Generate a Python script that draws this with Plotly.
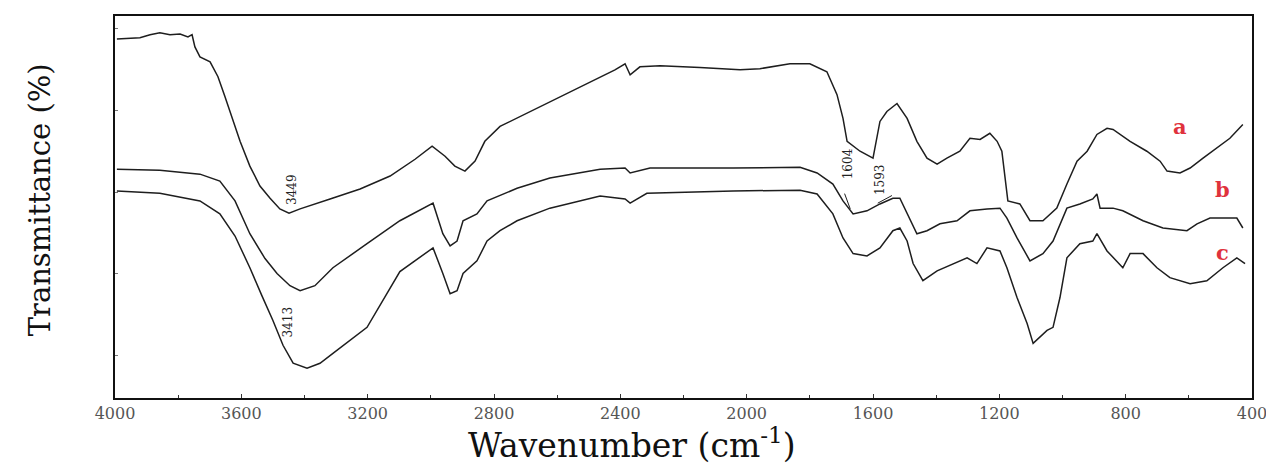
import plotly.graph_objects as go

# ---- data (wavenumber cm^-1, transmittance a.u. %) ----
wn_a = [3994, 3921, 3889, 3858, 3826, 3794, 3769, 3756, 3747, 3731, 3699, 3674, 3652, 3630, 3604, 3573,
        3541, 3509, 3478, 3449, 3414, 3319, 3224, 3129, 3050, 2996, 2955, 2924, 2892, 2860, 2829, 2781,
        2686, 2591, 2496, 2417, 2385, 2369, 2338, 2274, 2148, 2021, 1958, 1863, 1800, 1746, 1714, 1695,
        1682, 1641, 1600, 1578, 1556, 1524, 1492, 1461, 1429, 1397, 1366, 1325, 1293, 1261, 1230, 1207,
        1192, 1182, 1173, 1135, 1103, 1062, 1018, 986, 954, 922, 891, 859, 840, 786, 733, 691, 669, 628,
        596, 555, 511, 470, 429]
t_a = [94.0, 94.3, 95.1, 95.6, 95.1, 95.3, 94.5, 95.1, 91.9, 89.3, 88.0, 84.1, 78.9, 73.7, 67.2, 60.7,
       55.5, 52.3, 49.5, 48.4, 49.5, 52.1, 54.7, 58.1, 62.5, 65.9, 63.3, 60.7, 59.4, 62.0, 67.2, 71.1,
       75.0, 78.9, 82.8, 85.9, 87.5, 84.6, 86.7, 87.0, 86.5, 85.9, 86.2, 87.5, 87.5, 85.4, 79.4, 73.2,
       67.2, 64.6, 62.8, 72.4, 75.0, 77.1, 73.2, 67.2, 62.8, 61.2, 62.8, 64.6, 68.0, 67.7, 69.3, 67.2,
       64.6, 57.6, 51.6, 50.8, 46.4, 46.4, 49.7, 56.0, 62.0, 64.6, 69.0, 70.6, 70.3, 67.2, 64.6, 62.0, 59.4, 58.9,
       60.2, 62.8, 65.4, 68.0, 71.6]

wn_b = [3994, 3858, 3731, 3668, 3620, 3573, 3525, 3487, 3446, 3414, 3367, 3310, 3202, 3098, 2993, 2962,
        2939, 2917, 2898, 2854, 2822, 2727, 2623, 2464, 2385, 2369, 2306, 2043, 1831, 1777, 1727, 1695,
        1663, 1619, 1578, 1537, 1515, 1492, 1461, 1429, 1388, 1334, 1293, 1239, 1198, 1176, 1144, 1103,
        1062, 1030, 999, 986, 945, 904, 891, 881, 840, 809, 745, 682, 606, 574, 533, 492, 448, 429]
t_b = [59.9, 59.6, 58.6, 56.8, 51.6, 43.0, 36.5, 32.6, 29.4, 28.1, 29.4, 34.1, 40.4, 46.4, 51.0, 43.0,
       39.8, 41.1, 46.4, 48.2, 51.6, 54.9, 57.6, 59.9, 60.2, 58.9, 60.2, 60.2, 60.4, 58.9, 56.0, 51.6,
       48.2, 49.0, 50.8, 52.3, 52.3, 48.2, 43.0, 43.8, 45.6, 46.4, 49.0, 49.5, 49.7, 47.1, 41.9, 35.9,
       37.8, 41.1, 47.1, 49.7, 50.8, 52.1, 53.4, 49.7, 49.7, 49.0, 46.4, 44.5, 43.8, 45.6, 47.1, 47.1, 47.1, 44.5]

wn_c = [3994, 3858, 3731, 3668, 3620, 3573, 3535, 3500, 3468, 3436, 3392, 3351, 3310, 3202, 3098, 2993,
        2962, 2939, 2917, 2898, 2854, 2822, 2781, 2727, 2623, 2464, 2385, 2369, 2316, 2043, 1831, 1777,
        1727, 1695, 1663, 1619, 1578, 1537, 1515, 1492, 1473, 1442, 1397, 1347, 1302, 1271, 1239, 1198,
        1176, 1144, 1112, 1093, 1049, 1030, 1008, 986, 945, 904, 891, 859, 809, 786, 745, 701, 660, 596,
        543, 492, 448, 422]
t_c = [54.2, 53.6, 51.6, 48.2, 42.4, 34.1, 26.8, 20.3, 13.8, 9.1, 7.8, 9.1, 11.7, 18.5, 33.1, 39.3,
       32.6, 27.3, 28.1, 32.6, 35.9, 41.1, 43.8, 46.4, 49.7, 52.9, 52.1, 51.0, 53.6, 54.2, 54.4, 53.4,
       48.2, 41.9, 37.8, 37.2, 39.3, 43.8, 44.5, 41.1, 35.2, 30.7, 33.3, 35.2, 36.7, 35.2, 39.3, 38.5,
       34.1, 26.3, 19.5, 14.3, 17.7, 18.5, 26.3, 36.7, 40.4, 41.1, 43.0, 38.5, 34.1, 37.8, 37.8, 34.1, 31.5, 29.9,
       30.7, 34.1, 36.7, 35.2]

peak_labels = ["3449", "3413", "1604", "1593"]
peak_wn = [3440, 3452, 1679, 1578]
peak_t = [54.7, 19.8, 61.2, 57.3]

curve_labels = ["a", "b", "c"]
curve_label_wn = [628, 495, 495]
curve_label_t = [71.1, 54.7, 38.0]

x_ticks = [4000, 3600, 3200, 2800, 2400, 2000, 1600, 1200, 800, 400]

LINE = "#1e1e1e"
SERIF = "DejaVu Serif, serif"

fig = go.Figure()
for wn, t, name in [(wn_a, t_a, "a"), (wn_b, t_b, "b"), (wn_c, t_c, "c")]:
    fig.add_trace(go.Scatter(x=wn, y=t, mode="lines", name=name,
                             line=dict(color=LINE, width=1.5), showlegend=False))

for lab, x, y in zip(peak_labels, peak_wn, peak_t):
    fig.add_annotation(x=x, y=y, text=lab, showarrow=False, textangle=-90,
                       font=dict(family=SERIF, size=12, color="#222"))

# small connector marks of the 1604 / 1593 labels
fig.add_shape(type="line", x0=1690, y0=53.5, x1=1672, y1=49.5, line=dict(color=LINE, width=1))
fig.add_shape(type="line", x0=1585, y0=51.0, x1=1540, y1=53.0, line=dict(color=LINE, width=1))

for lab, x, y in zip(curve_labels, curve_label_wn, curve_label_t):
    fig.add_annotation(x=x, y=y, text="<b>" + lab + "</b>", showarrow=False,
                       font=dict(family=SERIF, size=21, color="#e0323c"))

fig.add_annotation(xref="paper", yref="paper", x=0.455, y=-0.118, xanchor="center", yanchor="middle",
                   text="Wavenumber (cm<sup>-1</sup>)",
                   showarrow=False, font=dict(family=SERIF, size=33, color="#111"))
fig.add_annotation(xref="paper", yref="paper", x=-0.066, y=0.52, xanchor="center", yanchor="middle",
                   text="Transmittance (%)",
                   showarrow=False, textangle=-90, font=dict(family=SERIF, size=29, color="#111"))

fig.update_xaxes(range=[4000, 400], tickvals=x_ticks, ticktext=[str(v) for v in x_ticks],
                 ticks="inside", ticklen=4, tickcolor="#333",
                 minor=dict(ticks="inside", ticklen=3, dtick=200, tickcolor="#333"),
                 showline=True, linecolor="#111", linewidth=1.5, mirror=True, showgrid=False,
                 zeroline=False, tickfont=dict(family=SERIF, size=16, color="#555"))
fig.update_yaxes(range=[0, 100], tickvals=[11.2, 32.6, 53.9, 75.3, 96.6], showticklabels=False,
                 ticks="inside", ticklen=3, tickcolor="#777",
                 showline=True, linecolor="#111", linewidth=1.5, mirror=True, showgrid=False,
                 zeroline=False)

# page body has an 8px margin; compensate so the plot area lands at x 115-1252, y 14-398
fig.update_layout(width=1266, height=457, margin=dict(l=107, r=22, t=6, b=67),
                  paper_bgcolor="white", plot_bgcolor="white")

fig.write_html("out.html")
